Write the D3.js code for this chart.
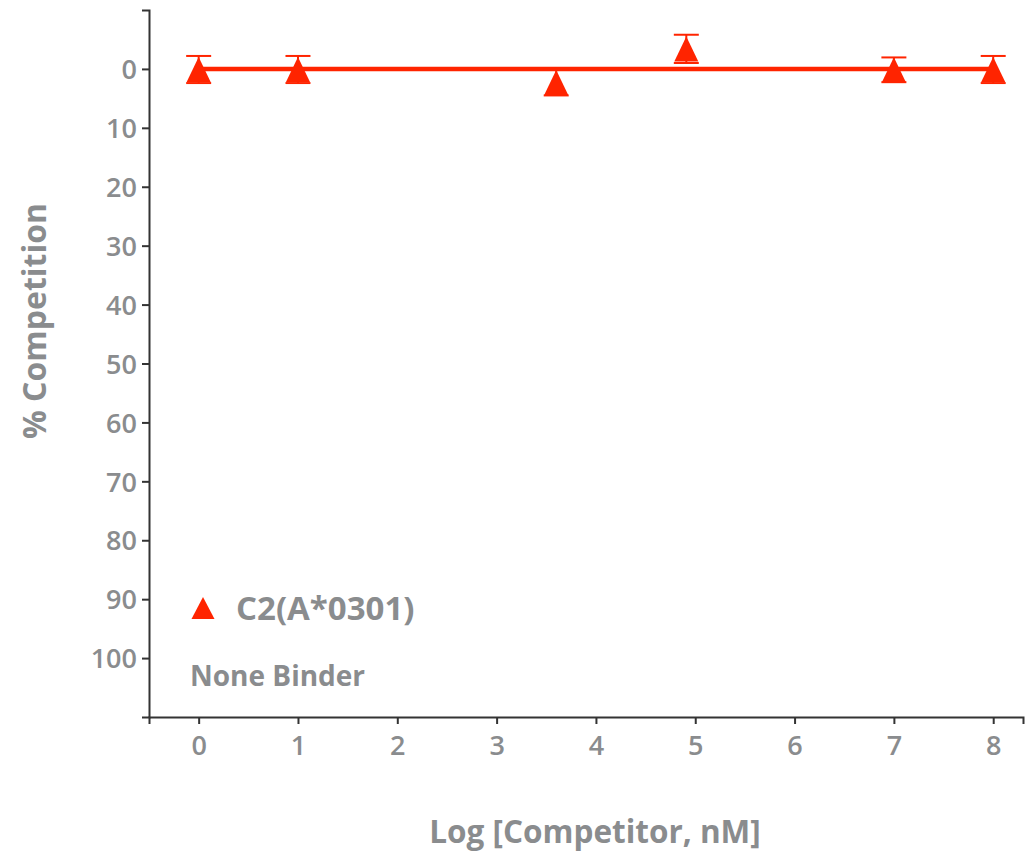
<!DOCTYPE html>
<html><head><meta charset="utf-8">
<script src="https://cdn.jsdelivr.net/npm/d3@7"></script>
<style>body{margin:0;background:#fff}svg{display:block}</style>
</head><body>
<svg id="c" width="1025" height="851"></svg>
<script>
const logConc = [0, 1, 3.6, 4.91, 7, 8];
const competition = [0.1, 0.1, 2.3, -3.4, 0.15, 0.1];
const errors = [2.3, 2.3, 2.2, 2.4, 2.1, 2.3];
const fitLine = [[0, 0], [8, 0]];
const xTicks = [0, 1, 2, 3, 4, 5, 6, 7, 8];
const yTicks = [0, 10, 20, 30, 40, 50, 60, 70, 80, 90, 100];
const seriesName = "C2(A*0301)";
const note = "None Binder";
const xTitle = "Log [Competitor, nM]";
const yTitle = "% Competition";

const RED = "#ff2400", GRAY = "#8a8c8e", FONT = "'Open Sans', 'Noto Sans', sans-serif";
const svg = d3.select("#c");
const x = d3.scaleLinear().domain([-0.5, 8.3]).range([149, 1023]);
const y = d3.scaleLinear().domain([-10, 110]).range([10, 717]);

// axes
const gx = svg.append("g").attr("transform", `translate(0,${y(110)})`)
  .call(d3.axisBottom(x).tickValues(xTicks).tickSizeOuter(0).tickSize(7).tickPadding(12));
const gy = svg.append("g").attr("transform", `translate(${x(-0.5)},0)`)
  .call(d3.axisLeft(y).tickValues(yTicks).tickSizeOuter(0).tickSize(7).tickPadding(5));
[gx, gy].forEach(g => {
  g.select(".domain").attr("stroke", "#333").attr("stroke-width", 2);
  g.selectAll(".tick line").attr("stroke", "#333").attr("stroke-width", 2);
  g.selectAll(".tick text").attr("fill", GRAY).attr("font-family", FONT)
    .attr("font-size", 27).attr("font-weight", 600);
});
gy.selectAll(".tick text").attr("dy", "0.36em");

// fit line
svg.append("path").datum(fitLine)
  .attr("d", d3.line().x(d => x(d[0])).y(d => y(d[1])))
  .attr("stroke", RED).attr("stroke-width", 4.5).attr("fill", "none");

// triangle symbol (bbox centered)
const tri = (w, h) => ({ draw(ctx) { ctx.moveTo(0, -h / 2); ctx.lineTo(w / 2, h / 2); ctx.lineTo(-w / 2, h / 2); ctx.closePath(); } });
const data = logConc.map((v, i) => ({ x: v, y: competition[i], e: errors[i] }));

const eb = svg.append("g").attr("stroke", RED).attr("stroke-width", 2);
data.forEach(d => {
  const cx = x(d.x), y1 = y(d.y - d.e), y2 = y(d.y + d.e);
  eb.append("line").attr("x1", cx).attr("x2", cx).attr("y1", y1).attr("y2", y2);
  eb.append("line").attr("x1", cx - 12.5).attr("x2", cx + 12.5).attr("y1", y1).attr("y2", y1);
  eb.append("line").attr("x1", cx - 12.5).attr("x2", cx + 12.5).attr("y1", y2).attr("y2", y2);
});
svg.append("g").selectAll("path").data(data).join("path")
  .attr("transform", d => `translate(${x(d.x)},${y(d.y)})`)
  .attr("d", d3.symbol().type(tri(24, 25)))
  .attr("fill", RED);

// legend
svg.append("path").attr("transform", "translate(203,608)")
  .attr("d", d3.symbol().type(tri(23, 22))).attr("fill", RED);
svg.append("text").attr("x", 236).attr("y", 620).text(seriesName)
  .attr("fill", GRAY).attr("font-family", FONT).attr("font-size", 33).attr("font-weight", 700);
svg.append("text").attr("x", 190).attr("y", 686).text(note)
  .attr("fill", GRAY).attr("font-family", FONT).attr("font-size", 28).attr("font-weight", 700);

// titles
svg.append("text").attr("x", 595).attr("y", 843).attr("text-anchor", "middle").text(xTitle)
  .attr("fill", GRAY).attr("font-family", FONT).attr("font-size", 31.5).attr("font-weight", 700);
svg.append("text").attr("transform", "translate(46,321) rotate(-90)").attr("text-anchor", "middle").text(yTitle)
  .attr("fill", GRAY).attr("font-family", FONT).attr("font-size", 32).attr("font-weight", 700);
</script>
</body></html>
